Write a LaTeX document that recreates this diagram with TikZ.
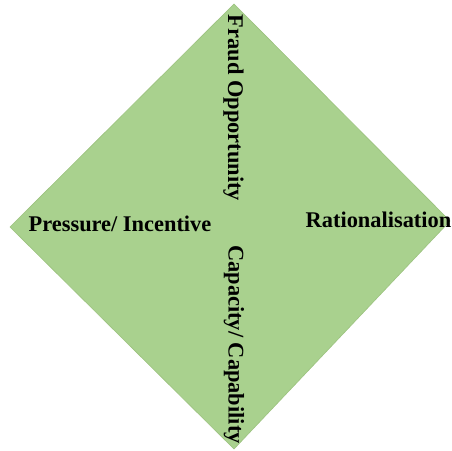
\documentclass[tikz,border=0pt]{standalone}
\usepackage{fontspec}
\setmainfont{Liberation Serif}
\definecolor{fillgreen}{HTML}{A9D18E}
\definecolor{edgegreen}{HTML}{9CC27F}
\begin{document}
\begin{tikzpicture}[x=1pt,y=1pt,
  lbl/.style={font=\fontsize{22.4}{26}\selectfont\bfseries, text=black, inner sep=0pt, anchor=base},
  vlbl/.style={lbl, rotate=-90}]
\useasboundingbox (0,0) rectangle (452,450);
\coordinate (T) at (234,446);
\coordinate (B) at (234,1);
\coordinate (L) at (10,223);
\coordinate (R) at (450,229);
\filldraw[fill=fillgreen, draw=edgegreen, line width=0.6pt, line join=miter] (T) -- (R) -- (B) -- (L) -- cycle;
\node[vlbl] (fraud) at (228,342) {Fraud Opportunity};
\node[vlbl] (cap) at (228.5,105.5) {Capacity/ Capability};
\node[lbl] (press) at (120,218) {Pressure/ Incentive};
\node[lbl] (rat) at (378.5,222) {Rationalisation};
\end{tikzpicture}
\end{document}
